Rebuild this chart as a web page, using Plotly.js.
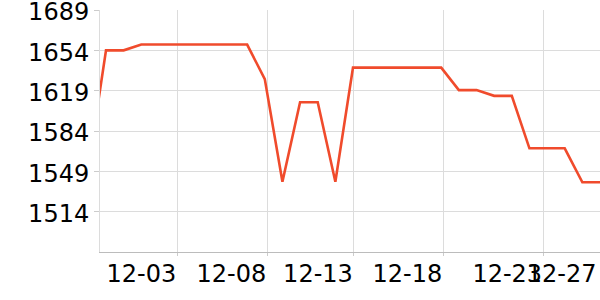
<!DOCTYPE html>
<html>
<head>
<meta charset="utf-8">
<script src="https://cdn.plot.ly/plotly-3.0.1.min.js"></script>
<style>html,body{margin:0;padding:0;background:#fff;}#chart{width:600px;height:300px;}</style>
</head>
<body>
<div id="chart"></div>
<script>
// Data
const dates = [
  '2023-11-28','2023-11-29','2023-11-30','2023-12-01','2023-12-02','2023-12-03',
  '2023-12-04','2023-12-05','2023-12-06','2023-12-07','2023-12-08','2023-12-09',
  '2023-12-10','2023-12-11','2023-12-12','2023-12-13','2023-12-14','2023-12-15',
  '2023-12-16','2023-12-17','2023-12-18','2023-12-19','2023-12-20','2023-12-21',
  '2023-12-22','2023-12-23','2023-12-24','2023-12-25','2023-12-26','2023-12-27'
];
const values = [
  1552, 1654, 1654, 1659, 1659, 1659,
  1659, 1659, 1659, 1659, 1629, 1540,
  1609, 1609, 1540, 1639, 1639, 1639,
  1639, 1639, 1639, 1619.5, 1619.5, 1614.5,
  1614.5, 1569, 1569, 1569, 1539.5, 1539.5
];
const gridTickVals = ['2023-12-03 01:00','2023-12-08 03:20','2023-12-13 01:10','2023-12-18 02:40','2023-12-23 18:40'];
const gridTickText = ['12-03','12-08','12-13','12-18','12-23'];
const lastTickVals = ['2023-12-26 20:00'];
const lastTickText = ['12-27'];
const yTickVals = [1514, 1549, 1584, 1619, 1654, 1689];

const xRange = ['2023-11-28 15:50','2023-12-27 00:00'];
const yRange = [1479, 1689];

const tickFont = {family: 'DejaVu Sans', size: 24, color: '#000'};

const trace = {
  x: dates, y: values, type: 'scatter', mode: 'lines',
  line: {color: '#f04b2c', width: 2.6},
  hoverinfo: 'skip'
};
// invisible carrier so the overlaying label axis is drawn
const carrier = {
  x: dates, y: values, type: 'scatter', mode: 'lines', xaxis: 'x2', yaxis: 'y',
  line: {color: 'rgba(0,0,0,0)', width: 0}, opacity: 0, hoverinfo: 'skip'
};

const layout = {
  width: 600, height: 300,
  margin: {l: 100, r: 0, t: 10, b: 48, pad: 0},
  paper_bgcolor: '#fff', plot_bgcolor: '#fff',
  showlegend: false,
  xaxis: {
    type: 'date', range: xRange, fixedrange: true,
    tickmode: 'array', tickvals: gridTickVals, ticktext: gridTickText,
    ticklabelposition: 'outside left', ticklabeloverflow: 'allow',
    showgrid: true, gridcolor: '#dcdcdc', gridwidth: 1,
    showline: true, linecolor: '#bcbcbc', linewidth: 1,
    ticks: 'outside', ticklen: 3, tickcolor: '#cccccc',
    tickfont: tickFont, zeroline: false
  },
  xaxis2: {
    type: 'date', range: xRange, overlaying: 'x', anchor: 'y', side: 'bottom',
    tickmode: 'array', tickvals: lastTickVals, ticktext: lastTickText,
    ticklabelposition: 'outside left', ticklabeloverflow: 'allow',
    showgrid: false, showline: false,
    ticks: 'outside', ticklen: 3, tickcolor: 'rgba(0,0,0,0)',
    tickfont: tickFont, zeroline: false, fixedrange: true
  },
  yaxis: {
    range: yRange, fixedrange: true,
    tickmode: 'array', tickvals: yTickVals, ticklabeloverflow: 'allow',
    ticklabelshift: 2,
    showgrid: true, gridcolor: '#dcdcdc', gridwidth: 1,
    showline: true, linecolor: '#dcdcdc', linewidth: 1,
    ticks: 'outside', ticklen: 5, tickcolor: '#cccccc',
    tickfont: tickFont, zeroline: false
  }
};

Plotly.newPlot('chart', [trace, carrier], layout, {staticPlot: true, displayModeBar: false});
</script>
</body>
</html>
